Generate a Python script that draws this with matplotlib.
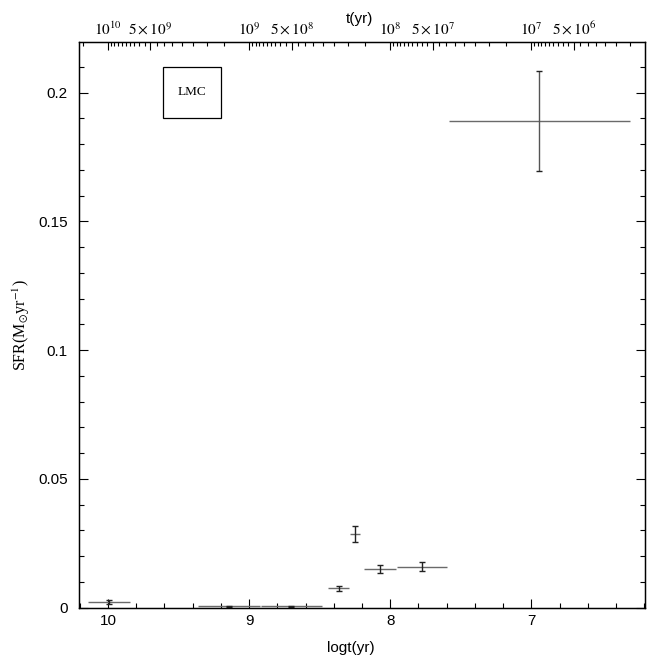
import numpy as np
import matplotlib
matplotlib.use("Agg")
import matplotlib.pyplot as plt
from matplotlib.patches import Rectangle

plt.rcParams['font.family'] = ['Liberation Sans', 'DejaVu Sans']
plt.rcParams['mathtext.fontset'] = 'stix'

# ---- data ----
logt = [9.99, 9.14, 8.70, 8.366, 8.248, 8.075, 7.775, 6.944]
logt_halfwidth = [0.148, 0.22, 0.215, 0.076, 0.035, 0.114, 0.18, 0.643]
sfr = [0.0020, 0.0004, 0.0004, 0.0074, 0.0285, 0.0149, 0.0158, 0.189]
sfr_err = [0.0008, 0.0001, 0.0001, 0.0008, 0.0030, 0.0016, 0.0017, 0.0193]

yticks = [0, 0.05, 0.1, 0.15, 0.2]
ytick_labels = ["0", "0.05", "0.1", "0.15", "0.2"]
xticks = [10, 9, 8, 7]
xtick_labels = ["10", "9", "8", "7"]
top_major_t = [1e10, 5e9, 1e9, 5e8, 1e8, 5e7, 1e7, 5e6]
top_major_labels = [r"$10^{10}$", r"$5\times10^{9}$", r"$10^{9}$", r"$5\times10^{8}$",
                    r"$10^{8}$", r"$5\times10^{7}$", r"$10^{7}$", r"$5\times10^{6}$"]

xlim = (10.205, 6.195)
ylim = (0, 0.2197)

fig = plt.figure(figsize=(6.49, 6.61), dpi=100)
ax = fig.add_axes([0.1217, 0.0809, 0.8721, 0.8556])

# horizontal (bin) bars
ax.errorbar(logt, sfr, xerr=logt_halfwidth, fmt='none', ecolor='#6a6a6a', elinewidth=1.0, capsize=0)
# vertical error bars (long bars render lighter in the reference)
ycolors = ['#222222' if e < 0.01 else '#555555' for e in sfr_err]
cont = ax.errorbar(logt, sfr, yerr=sfr_err, fmt='none', ecolor='#222222', elinewidth=1.0,
                   capsize=2.5, capthick=1.0)
cont.lines[2][0].set_color(ycolors)

ax.set_xlim(*xlim)
ax.set_ylim(*ylim)

ax.set_xticks(xticks)
ax.set_xticklabels(xtick_labels, fontsize=11)
ax.set_xticks(np.arange(6.2, 10.21, 0.2), minor=True)
ax.set_yticks(yticks)
ax.set_yticklabels(ytick_labels, fontsize=11)
ax.set_yticks(np.arange(0, 0.2197, 0.01), minor=True)

ax.tick_params(axis='x', which='both', direction='in', top=False, bottom=True, pad=5)
ax.tick_params(axis='y', which='both', direction='in', left=True, right=True, pad=8)
ax.tick_params(which='major', length=6.8, width=0.8)
ax.tick_params(which='minor', length=3.8, width=0.8)
for s in ax.spines.values():
    s.set_linewidth(1.0)

# top t(yr) axis
ax2 = ax.twiny()
ax2.set_xlim(*xlim)
ax2.set_xticks(np.log10(top_major_t))
ax2.set_xticklabels(top_major_labels, fontsize=11)
minor_t = []
for n in range(6, 12):
    for k in range(3, 20):
        if k == 10:
            continue
        v = k * 0.5 * 10 ** (n - 1)
        lv = np.log10(v)
        if min(xlim) <= lv <= max(xlim):
            minor_t.append(lv)
ax2.set_xticks(minor_t, minor=True)
ax2.tick_params(axis='x', which='both', direction='in', pad=3)
ax2.tick_params(which='major', length=6, width=0.8)
ax2.tick_params(which='minor', length=3, width=0.8)

# labels
fig.text(351 / 649, 1 - 648 / 661, "logt(yr)", ha='center', va='center', fontsize=11)
fig.text(360 / 649, 1 - 19 / 661, "t(yr)", ha='center', va='center', fontsize=11)
fig.text(21 / 649, 1 - 325 / 661, r"SFR(M$_{\odot}$yr$^{-1}$)", rotation=90,
         ha='center', va='center', fontsize=11.5, family=['Liberation Serif', 'DejaVu Serif'])

# LMC box
ax.add_patch(Rectangle((0.1484, 0.865), 0.102, 0.0913, transform=ax.transAxes,
                       fill=False, edgecolor='black', linewidth=0.9))
ax.text(0.1994, 0.9107, "LMC", transform=ax.transAxes, ha='center', va='center',
        fontsize=9.5, family=['Liberation Serif', 'DejaVu Serif'])

fig.savefig("out.png", dpi=100)
